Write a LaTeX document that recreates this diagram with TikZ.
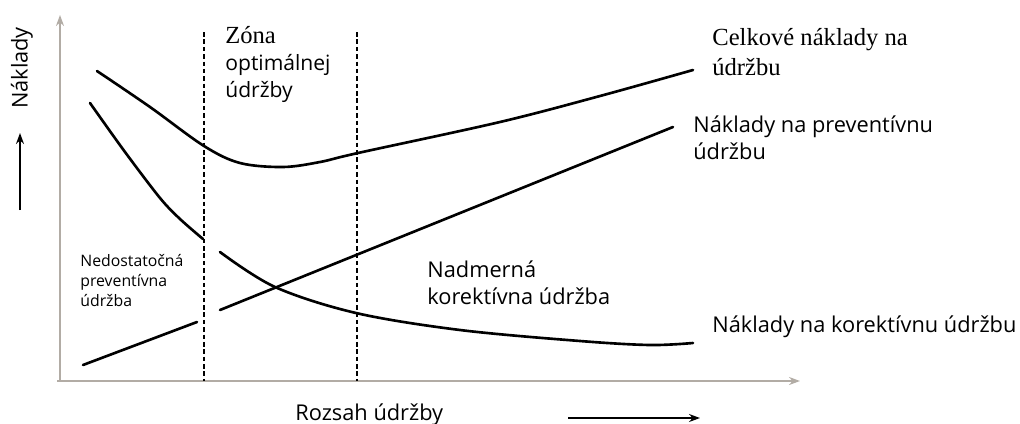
\documentclass[tikz,border=0pt]{standalone}
\usepackage{fontspec}
\setmainfont{Open Sans}
\newfontfamily\serifx{Liberation Serif}
\usepackage{tikz}
\usetikzlibrary{arrows.meta,positioning}

\definecolor{axisgray}{RGB}{178,172,165}

\begin{document}
\begin{tikzpicture}[
    x=0.02cm, y=-0.02cm,
    axis/.style={draw=axisgray, line width=1.2pt, -{Stealth[length=2.2mm, width=1.6mm]}},
    curve/.style={line width=1.5pt, line cap=round},
    zone/.style={line width=0.7pt, dash pattern=on 2.6pt off 1.6pt},
    arrow/.style={-{Stealth[length=2.2mm, width=1.6mm]}, line width=0.8pt},
    lbl/.style={inner sep=0pt, align=left, font=\fontsize{12.4}{15.4}\selectfont},
    slbl/.style={inner sep=0pt, align=left, font=\fontsize{9}{11.3}\selectfont},
    rlbl/.style={inner sep=0pt, align=left, font=\serifx\fontsize{14}{17}\selectfont},
  ]
  \useasboundingbox (0,0) rectangle (1020,423);

  % axes
  \coordinate (origin) at (60,381);
  \coordinate (ytop) at (60,15);
  \coordinate (xend) at (800,381);
  \draw[axis] (57,381) -- (xend);
  \draw[axis] (origin) -- (ytop);

  % zone of optimal maintenance
  \draw[zone] (204,32) -- (204,381);
  \draw[zone] (357,32) -- (357,381);

  % total costs
  \draw[curve] plot[smooth, tension=0.55] coordinates {(97,71) (150,107)
      (204,146) (240,163) (283,167) (320,162) (358,153) (500,122)
      (600,96) (693,70)};

  % corrective costs
  \draw[curve] plot[smooth, tension=0.5] coordinates {(90,103) (125,152)
      (160,198) (180,219) (203,239)};
  \draw[curve] plot[smooth, tension=0.55] coordinates {(220,252) (275,287)
      (356,313) (460,330) (580,341) (650,345) (693,343)};

  % preventive costs
  \draw[curve] (83,365) -- (197,322);
  \draw[curve] (220,310) -- (673,127);

  % labels
  \node[lbl, rotate=90] (ylabel) at (22,68) {Náklady};
  \coordinate (ya0) at (20,210);
  \coordinate (ya1) at (20,133);
  \draw[arrow] (ya0) -- (ya1);

  \node[lbl, anchor=north west, font=\fontsize{12}{15.4}\selectfont] (zone) at (225,26)
    {{\serifx\fontsize{14}{17}\selectfont Zóna}\\optimálnej\\údržby};
  \node[rlbl, anchor=north west] (total) at (712,28) {Celkové náklady na\\údržbu};
  \node[lbl, anchor=north west] (prev) at (693,115) {Náklady na preventívnu\\údržbu};
  \node[lbl, anchor=base west] (corr) at (712,332) {Náklady na korektívnu údržbu};
  \node[lbl, anchor=north west] (over) at (427,260) {Nadmerná\\korektívna údržba};
  \node[slbl, anchor=north west] (under) at (80,254) {Nedostatočná\\preventívna\\údržba};

  \node[lbl, anchor=base west] (xlabel) at (295,420) {Rozsah údržby};
  \coordinate (xa0) at (568,418);
  \coordinate (xa1) at (700,418);
  \draw[arrow] (xa0) -- (xa1);
\end{tikzpicture}
\end{document}
